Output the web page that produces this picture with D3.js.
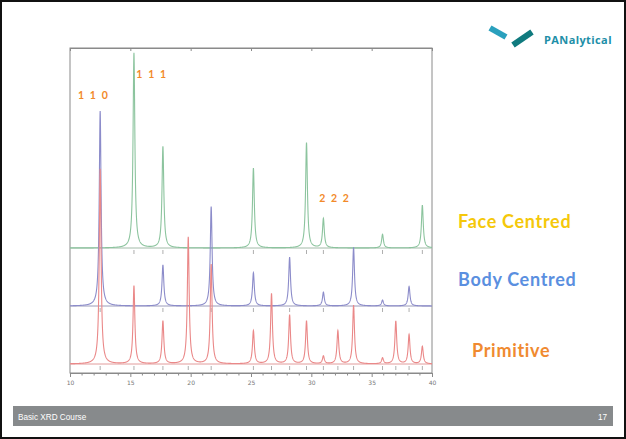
<!DOCTYPE html>
<html><head><meta charset="utf-8">
<script src="https://cdn.jsdelivr.net/npm/d3@7"></script>
<style>html,body{margin:0;padding:0;background:#fff;}svg{display:block;}</style>
</head><body>
<svg id="c" width="626" height="439"></svg>
<script>
// Peak positions (2θ, degrees) and relative intensities (%)
const fccPos = [15.3, 17.7, 25.2, 29.6, 31.0, 35.9, 39.2];
const fccInt = [100, 52, 41, 54, 15, 7, 22];
const bccPos = [12.5, 17.7, 21.7, 25.2, 28.2, 31.0, 33.5, 35.9, 38.1];
const bccInt = [100, 21, 51, 17, 25, 7, 30, 3, 10];
const primPos = [12.5, 15.3, 17.7, 19.8, 21.7, 25.2, 26.7, 28.2, 29.6, 31.0, 32.2, 33.5, 35.9, 37.0, 38.1, 39.2];
const primInt = [100, 40, 22, 65, 51, 17, 36, 25, 22, 4, 17, 30, 3, 22, 15, 9];
const xTicks = [10, 15, 20, 25, 30, 35, 40];
const seriesNames = ["Face Centred", "Body Centred", "Primitive"];
const hklText = ["1 1 0", "1 1 1", "2 2 2"];
const hklPos = [10.66, 15.5, 30.65];
const hklInt = [106, 87, 23.6];   // label height above its pattern baseline (%)
const hklSeries = [1, 0, 0];

const svg = d3.select("#c");
const W = 626, H = 439;
svg.append("rect").attr("x",0).attr("y",0).attr("width",W).attr("height",H).attr("fill","#fff");

const x = d3.scaleLinear().domain([10, 40]).range([70, 432]);
const baselines = [248, 306, 364];
const hScale = d3.scaleLinear().domain([0, 100]).range([0, 195]);
const ys = baselines.map(b => (v => b - hScale(v)));

const series = [
  {pos: fccPos, ints: fccInt, color: "#8cc49e", base: "#a3bba9"},
  {pos: bccPos, ints: bccInt, color: "#8c8cca", base: "#9c9cba"},
  {pos: primPos, ints: primInt, color: "#ea8888", base: "#e29c9c"}
];

// frame
svg.append("rect").attr("x", 70).attr("y", 48).attr("width", 362).attr("height", 325)
  .attr("fill", "none").attr("stroke", "#8a8a8a").attr("stroke-width", 1);

// bottom axis
const axB = d3.axisBottom(x).tickValues(xTicks).tickSize(4).tickFormat(d3.format("d"));
const gB = svg.append("g").attr("transform", "translate(0,373)").call(axB);
gB.select(".domain").attr("stroke", "#8a8a8a");
gB.selectAll(".tick line").attr("stroke", "#8a8a8a");
gB.selectAll(".tick text").attr("font-size", 6).attr("fill", "#777").attr("font-family", "DejaVu Sans").attr("dy", "0.9em");
const minor = d3.range(10, 40.01, 1).filter(v => v % 5 !== 0);
svg.append("g").selectAll("line").data(minor).join("line")
  .attr("x1", d => x(d)).attr("x2", d => x(d)).attr("y1", 373).attr("y2", 375.5)
  .attr("stroke", "#8a8a8a");
// top axis ticks
const axT = d3.axisTop(x).tickValues(xTicks).tickSize(-3).tickFormat("");
const gT = svg.append("g").attr("transform", "translate(0,48)").call(axT);
gT.select(".domain").attr("stroke", "#8a8a8a");
gT.selectAll(".tick line").attr("stroke", "#8a8a8a");

// profiles
const grid = d3.range(10, 40.0001, 0.01);
const w = 0.09;
const line = d3.line().x(d => x(d[0])).y(d => d[1]);
series.forEach((s, i) => {
  const pts = grid.map(t => {
    let v = 0;
    s.pos.forEach((p, k) => { const u = (t - p) / w; v += s.ints[k] / (1 + u * u); });
    return [t, ys[i](v)];
  });
  svg.append("line").attr("x1", 70).attr("x2", 432).attr("y1", baselines[i]).attr("y2", baselines[i])
    .attr("stroke", s.base).attr("stroke-width", 1);
  svg.append("path").datum(pts).attr("d", line).attr("fill", "none")
    .attr("stroke", s.color).attr("stroke-width", 1.1);
  svg.append("g").selectAll("line").data(s.pos).join("line")
    .attr("x1", d => x(d)).attr("x2", d => x(d))
    .attr("y1", baselines[i] + 2).attr("y2", baselines[i] + 6)
    .attr("stroke", "#999").attr("stroke-width", 0.8);
});

// hkl labels
svg.append("g").selectAll("text").data(hklText).join("text")
  .attr("x", (d, k) => x(hklPos[k])).attr("y", (d, k) => ys[hklSeries[k]](hklInt[k]))
  .attr("text-anchor", "start").attr("font-family", "Lato, 'DejaVu Sans'").attr("font-weight", "bold")
  .attr("font-size", 10.5).attr("letter-spacing", 1.6).attr("fill", "#f28a2a").text(d => d);

// series labels
const labColors = ["#f5c80a", "#5a8fe0", "#f08a30"];
const labX = [458, 458, 472];
const labY = [228, 286, 357];
svg.append("g").selectAll("text").data(seriesNames).join("text")
  .attr("x", (d, k) => labX[k]).attr("y", (d, k) => labY[k])
  .attr("font-family", "Lato, 'Open Sans'").attr("font-weight", "bold").attr("font-size", 18)
  .attr("letter-spacing", 0.7)
  .attr("fill", (d, k) => labColors[k]).text(d => d);

// logo
const logo = svg.append("g");
logo.append("line").attr("x1", 490).attr("y1", 28).attr("x2", 506).attr("y2", 37)
  .attr("stroke", "#2aa0bd").attr("stroke-width", 6);
logo.append("line").attr("x1", 513).attr("y1", 45).attr("x2", 532).attr("y2", 32)
  .attr("stroke", "#0f7a7e").attr("stroke-width", 6);
logo.append("text").attr("x", 544).attr("y", 43.5).attr("font-family", "'Open Sans', 'DejaVu Sans'")
  .attr("font-weight", "bold").attr("font-size", 11).attr("letter-spacing", 0.4)
  .attr("fill", "#1e8fa8").text("PANalytical");

// footer
svg.append("rect").attr("x", 13).attr("y", 406).attr("width", 600).attr("height", 20).attr("fill", "#878a8c");
svg.append("text").attr("x", 18).attr("y", 419.5).attr("font-family", "'Liberation Sans', Arial")
  .attr("font-size", 8.2).attr("fill", "#fff").text("Basic XRD Course");
svg.append("text").attr("x", 607).attr("y", 419.5).attr("text-anchor", "end").attr("font-family", "'Liberation Sans', Arial")
  .attr("font-size", 8.2).attr("fill", "#fff").text("17");

// slide border
svg.append("rect").attr("x", 1).attr("y", 1).attr("width", W - 2).attr("height", H - 2)
  .attr("fill", "none").attr("stroke", "#111").attr("stroke-width", 2);
</script>
</body></html>
